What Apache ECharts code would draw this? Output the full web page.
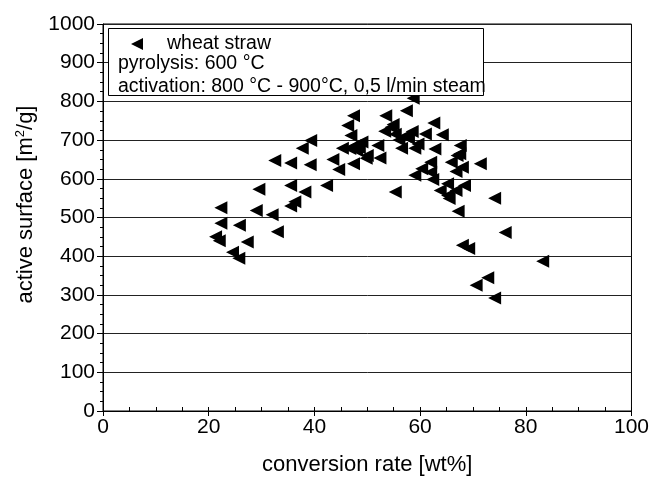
<!DOCTYPE html>
<html>
<head>
<meta charset="utf-8">
<script src="https://cdn.jsdelivr.net/npm/echarts@6/dist/echarts.min.js"></script>
<style>
html,body{margin:0;padding:0;background:#fff;}
#chart{width:652px;height:481px;}
</style>
</head>
<body>
<div id="chart"></div>
<script>
// conversion rate [wt%]
const conversionRate = [
  21.3, 22.0, 22.3, 22.3, 24.5, 25.7, 25.8, 27.3, 29.0, 29.5,
  32.0, 32.5, 33.0, 35.5, 35.5, 35.5, 36.3, 38.2, 37.7, 39.3,
  39.2, 42.3, 43.5, 44.6, 45.3, 46.3, 47.4, 46.9, 46.7, 47.4,
  47.7, 48.0, 49.0, 49.8, 50.0, 52.0, 52.4, 53.5, 53.3, 54.5,
  54.9, 55.3, 55.3, 56.5, 57.1, 57.4, 58.7, 58.5, 59.0, 59.0,
  59.6, 61.0, 60.3, 62.6, 62.0, 62.0, 62.4, 62.8, 64.2, 63.8,
  65.2, 65.2, 65.5, 65.9, 66.8, 67.0, 66.8, 67.2, 67.6, 68.0,
  68.4, 68.0, 69.2, 71.4, 70.6, 72.8, 74.1, 74.1, 76.1, 83.2,
  56.0, 67.5, 48.5, 57.8
];
// active surface [m2/g]
const activeSurface = [
  450, 440, 525, 485, 410, 395, 480, 437, 518, 573,
  507, 647, 463, 641, 583, 530, 541, 566, 679, 699,
  636, 583, 650, 624, 679, 738, 763, 712, 678, 639,
  686, 673, 695, 653, 660, 686, 654, 763, 723, 733,
  740, 715, 566, 679, 710, 776, 808, 722, 679, 609,
  690, 716, 626, 744, 643, 617, 598, 677, 714, 570,
  587, 557, 549, 643, 570, 660, 619, 516, 686, 630,
  583, 428, 420, 639, 325, 344, 292, 550, 461, 387,
  700, 665, 680, 705
];
const seriesName = 'wheat straw';
const noteLines = ['pyrolysis: 600 °C', 'activation: 800 °C - 900°C, 0,5 l/min steam'];

const points = conversionRate.map((x, i) => [x, activeSurface[i]]);
const leftTri = 'path://M0,5L10,0L10,10Z';
const FONT = '"Liberation Sans", Arial, sans-serif';

const chart = echarts.init(document.getElementById('chart'), null, {renderer: 'canvas'});
chart.setOption({
  animation: false,
  backgroundColor: '#fff',
  textStyle: {fontFamily: FONT},
  grid: {left: 103, right: 20, top: 24, bottom: 69, show: true, borderColor: '#000', borderWidth: 1, backgroundColor: 'transparent'},
  legend: {
    data: [seriesName],
    left: 131, top: 34, padding: 0,
    itemWidth: 12, itemHeight: 12,
    icon: leftTri,
    itemStyle: {color: '#000'},
    formatter: '{a|{name}}',
    textStyle: {color: '#000', fontSize: 19.5, fontFamily: FONT, rich: {a: {fontSize: 19.5, fontFamily: FONT, color: '#000', padding: [0, 0, 0, 19]}}},
    z: 5
  },
  graphic: [
    {type: 'rect', z: 3, shape: {x: 108.5, y: 28.5, width: 375, height: 67}, style: {fill: '#fff', stroke: '#000', lineWidth: 1}},
    {type: 'text', z: 4, x: 118, y: 64, style: {text: noteLines[0], font: '19.5px ' + FONT, fill: '#000', verticalAlign: 'middle'}},
    {type: 'text', z: 4, x: 118, y: 87, style: {text: noteLines[1], font: '19.5px ' + FONT, fill: '#000', verticalAlign: 'middle'}}
  ],
  xAxis: [{
    type: 'value', min: 0, max: 100, interval: 20, position: 'bottom',
    name: 'conversion rate [wt%]', nameLocation: 'middle', nameGap: 43,
    nameTextStyle: {fontSize: 22, color: '#000', fontFamily: FONT},
    axisLine: {show: true, lineStyle: {color: '#000', width: 1}},
    axisTick: {show: true, inside: false, length: 5, lineStyle: {color: '#000'}},
    axisLabel: {fontSize: 21, color: '#000', margin: 6, fontFamily: FONT, formatter: v => String(v)},
    splitLine: {show: false}
  }, {
    type: 'value', min: 0, max: 100, interval: 5, position: 'bottom',
    axisLine: {show: false},
    axisTick: {show: true, inside: true, length: 4, lineStyle: {color: '#000'}},
    axisLabel: {show: false},
    splitLine: {show: false}
  }],
  yAxis: {
    type: 'value', min: 0, max: 1000, interval: 100,
    name: 'active surface [m{sup|2}/g]', nameLocation: 'middle', nameGap: 66,
    nameTextStyle: {fontSize: 22, color: '#000', fontFamily: FONT, padding: [0, 0, 0, 26], rich: {sup: {fontSize: 13, fontFamily: FONT, color: '#000', padding: [0, 0, 10, 0]}}},
    axisLine: {show: true, lineStyle: {color: '#000', width: 1}},
    axisTick: {show: true, inside: false, length: 6, lineStyle: {color: '#000'}},
    minorTick: {show: true, splitNumber: 4, length: 3, lineStyle: {color: '#000'}},
    axisLabel: {fontSize: 21, color: '#000', margin: 8, fontFamily: FONT, formatter: v => String(v)},
    splitLine: {show: true, lineStyle: {color: '#222', width: 1}}
  },
  series: [{
    name: seriesName,
    type: 'scatter',
    xAxisIndex: 0,
    data: points,
    symbol: leftTri,
    symbolSize: 13,
    itemStyle: {color: '#000', opacity: 1},
    z: 2
  }]
});
</script>
</body>
</html>
